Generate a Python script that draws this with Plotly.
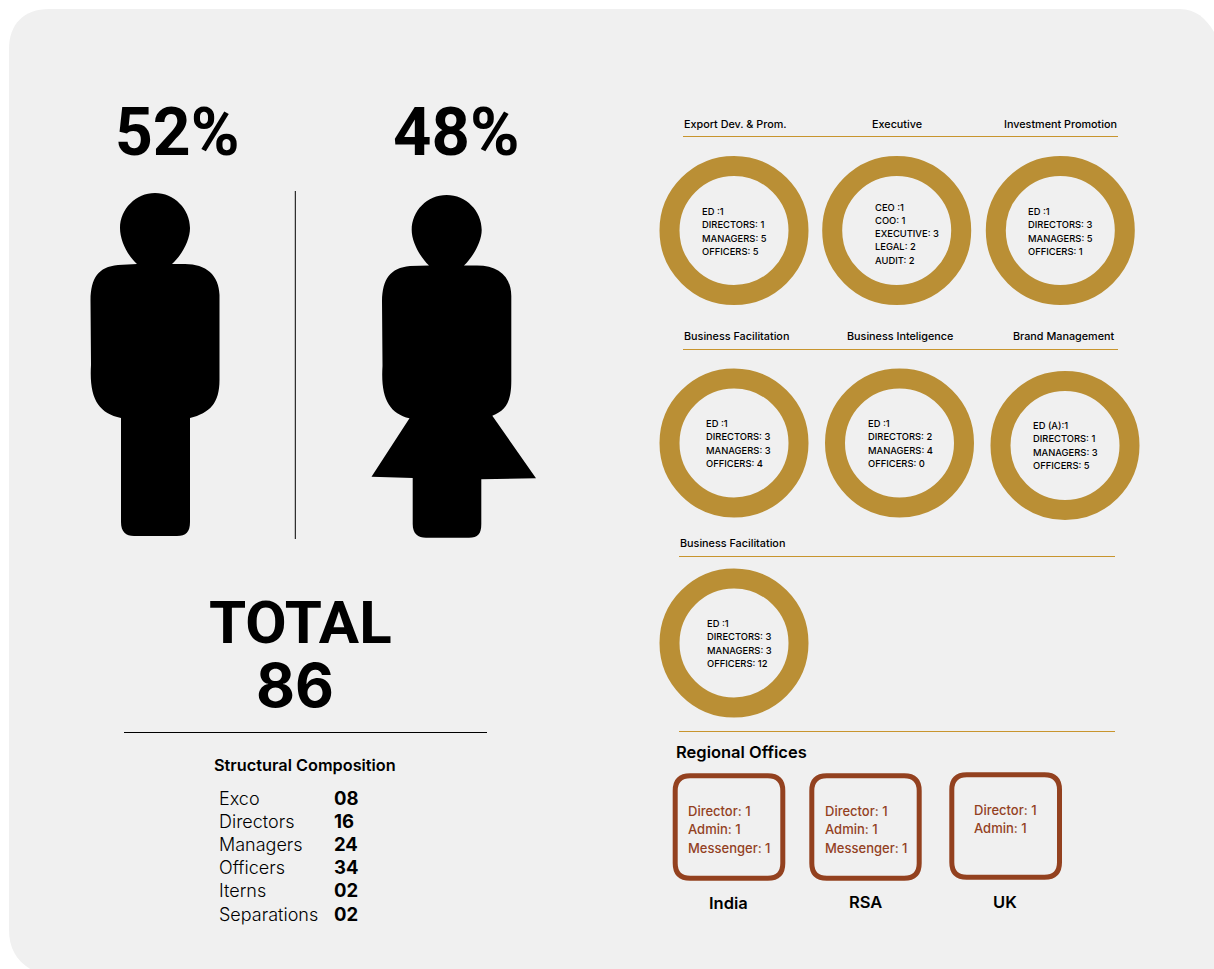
import plotly.graph_objects as go

FONT = "Inter"
BIG_FONT = "Roboto"
BG = "#f0f0f0"
GOLD = "#ba8f35"
RULE_GOLD = "#c8952e"
RUST = "#93411f"

# ---------- data ----------
gender_labels = ["52%", "48%"]
total_title = "TOTAL"
total_value = "86"
structure_title = "Structural Composition"
structure_labels = ["Exco", "Directors", "Managers", "Officers", "Iterns", "Separations"]
structure_values = ["08", "16", "24", "34", "02", "02"]

dept_ring_1 = ["ED :1", "DIRECTORS: 1", "MANAGERS: 5", "OFFICERS: 5"]
dept_ring_2 = ["CEO :1", "COO: 1", "EXECUTIVE: 3", "LEGAL: 2", "AUDIT: 2"]
dept_ring_3 = ["ED :1", "DIRECTORS: 3", "MANAGERS: 5", "OFFICERS: 1"]
dept_ring_4 = ["ED :1", "DIRECTORS: 3", "MANAGERS: 3", "OFFICERS: 4"]
dept_ring_5 = ["ED :1", "DIRECTORS: 2", "MANAGERS: 4", "OFFICERS: 0"]
dept_ring_6 = ["ED (A):1", "DIRECTORS: 1", "MANAGERS: 3", "OFFICERS: 5"]
dept_ring_7 = ["ED :1", "DIRECTORS: 3", "MANAGERS: 3", "OFFICERS: 12"]

regional_title = "Regional Offices"
office_names = ["India", "RSA", "UK"]
office_india = ["Director: 1", "Admin: 1", "Messenger: 1"]
office_rsa = ["Director: 1", "Admin: 1", "Messenger: 1"]
office_uk = ["Director: 1", "Admin: 1"]

# ---------- layout positions (page pixels) ----------
ring_x = [734, 896.7, 1060.3, 734, 899.5, 1065, 734]
ring_y = [230.5, 230.5, 230.5, 443, 443, 445.5, 643]

fig = go.Figure()
ann = []
shapes = []


def text(x, y, s, size, weight=500, color="#000", anchor="left", family=FONT):
    ann.append(dict(x=x, y=y, text=s, xref="x", yref="y", showarrow=False,
                    xanchor=anchor, yanchor="middle", borderpad=0,
                    font=dict(family=family, size=size, color=color, weight=weight)))


def line(x0, x1, y0, y1, color, w=1):
    shapes.append(dict(type="line", x0=x0, x1=x1, y0=y0, y1=y1, xref="x", yref="y",
                       line=dict(color=color, width=w), layer="below"))


def fill_path(p, color):
    shapes.append(dict(type="path", path=p, xref="x", yref="y",
                       fillcolor=color, line=dict(width=0), layer="below"))


def round_box(x0, y0, x1, y1, r, color, w):
    p = (f"M {x0+r},{y0} L {x1-r},{y0} Q {x1},{y0} {x1},{y0+r} L {x1},{y1-r} "
         f"Q {x1},{y1} {x1-r},{y1} L {x0+r},{y1} Q {x0},{y1} {x0},{y1-r} "
         f"L {x0},{y0+r} Q {x0},{y0} {x0+r},{y0} Z")
    shapes.append(dict(type="path", path=p, xref="x", yref="y",
                       line=dict(color=color, width=w), layer="below"))


# page panel
fill_path("M 49,9 L 1180,9 C 1198,9 1210,22 1218,40 L 1218,975 L 42,975 "
          "C 20,966 9,952 9,930 L 9,49 C 9,24 24,9 49,9 Z", BG)

# man silhouette
fill_path("M 137,264 L 118,265 C 98,267 91,278 90.5,300 L 91,365 C 89,398 98,413 121,418 "
          "L 121,522 C 121,532 126,536 134,536 L 177,536 C 186,536 190,532 190,522 L 190,418 "
          "C 210,413 219.5,403 219.5,380 L 219.5,295 C 219,275 206,264 185,264 L 172,264 "
          "C 182,255 190,240 190,228 C 190,209 174,193 155,193 C 136,193 120,209 120,228 "
          "C 120,240 127,255 137,264 Z", "#000")

# woman silhouette
fill_path("M 429,265.5 L 410,266 C 390,268 382.5,279 382,301 L 382.5,366 C 380.5,398 389,413 409.5,418.3 "
          "L 371.5,476.7 L 412.7,478 L 412.7,524 C 412.7,534 418,537.7 426,537.7 L 469,537.7 "
          "C 478,537.7 481.3,534 481.3,524 L 481.3,479.3 L 536,478.3 L 492.3,415.7 "
          "C 505,411 511.3,403 511.3,381 L 511.3,296 C 511,276 498,265.5 477,265.5 L 464,265.5 "
          "C 474,256 481.7,241 481.7,230 C 481.7,211 466,195 446.7,195 C 427,195 411.7,211 411.7,230 "
          "C 411.7,241 419,256 429,265.5 Z", "#000")

line(295.3, 295.3, 191, 539, "#000", 1)
line(124, 487, 732.5, 732.5, "#000", 1)
line(683, 1118, 136.5, 136.5, RULE_GOLD, 1)
line(683, 1118, 349.5, 349.5, RULE_GOLD, 1)
line(679, 1115, 556.5, 556.5, RULE_GOLD, 1)
line(679, 1115, 731.5, 731.5, RULE_GOLD, 1)

# big numbers
text(177, 132, gender_labels[0], 66, 700, anchor="center", family=BIG_FONT)
text(455.5, 132, gender_labels[1], 67, 700, anchor="center", family=BIG_FONT)
text(300, 622, total_title, 60, 700, anchor="center", family=BIG_FONT)
text(295, 685, total_value, 60, 700, anchor="center", family=FONT)

# structure list
text(212.5, 765, structure_title, 16.3, 600)
row_y = [798, 821, 844, 867, 890, 914]
for lab, val, y in zip(structure_labels, structure_values, row_y):
    text(218, y, lab, 18, 300)
    text(332.5, y, val, 18.5, 700)

# rings
fig.add_trace(go.Scatter(
    x=ring_x, y=ring_y, mode="markers", hoverinfo="skip", showlegend=False,
    marker=dict(symbol="circle", size=129, color="rgba(0,0,0,0)",
                line=dict(color=GOLD, width=20)),
))

# department headers
text(682.5, 124, "Export Dev. &amp; Prom.", 10.8)
text(896.5, 124, "Executive", 10.8, anchor="center")
text(1118, 124, "Investment Promotion", 10.8, anchor="right")
text(682.5, 336.5, "Business Facilitation", 10.8)
text(899.5, 336.5, "Business Inteligence", 10.8, anchor="center")
text(1115, 336.5, "Brand Management", 10.8, anchor="right")
text(678.5, 543.5, "Business Facilitation", 10.8)

# ring texts
ring_sets = [
    (dept_ring_1, 701, 211.5),
    (dept_ring_2, 874, 207),
    (dept_ring_3, 1027, 211.5),
    (dept_ring_4, 705, 423.5),
    (dept_ring_5, 866.5, 423.5),
    (dept_ring_6, 1031.5, 425.5),
    (dept_ring_7, 706, 623.5),
]
for lines, x, y0 in ring_sets:
    for i, s in enumerate(lines):
        text(x, y0 + i * 13.33, s, 9.4)

# regional offices
text(675, 752, regional_title, 16.5, 600)
boxes = [(675.2, 775.8, 782.8, 878.2), (811.8, 775.8, 919.2, 878.2), (951.8, 774.8, 1059.5, 877.2)]
for b in boxes:
    round_box(*b, 15, RUST, 5)
for lines, x, y0 in [(office_india, 687, 811), (office_rsa, 823.5, 811), (office_uk, 973, 810)]:
    for i, s in enumerate(lines):
        text(x, y0 + i * 18.4, s, 13, 500, RUST)
for name, x, y in zip(office_names, [728, 865, 1005], [903, 902, 902]):
    text(x, y, name, 16.5, 600, anchor="center")

fig.update_layout(
    width=1214, height=969, margin=dict(l=0, r=0, t=0, b=0),
    paper_bgcolor="#ffffff", plot_bgcolor="#ffffff", showlegend=False,
    xaxis=dict(range=[0, 1214], visible=False, fixedrange=True),
    yaxis=dict(range=[969, 0], visible=False, fixedrange=True),
    annotations=ann, shapes=shapes,
)
fig.write_html("out.html", config={"displayModeBar": False},
               post_script="document.body.style.margin='0';document.body.style.overflow='hidden';")
